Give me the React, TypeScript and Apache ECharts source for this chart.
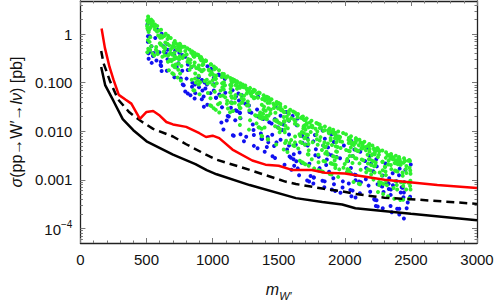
import React, { useEffect, useRef } from "react";
import * as echarts from "echarts";

// ---- data (mass in GeV, cross section in pb) ----
const redLimit: [number, number][] = [
  [160, 1.3], [185, 0.52], [220, 0.21], [250, 0.115], [290, 0.056], [340, 0.045], [385, 0.037],
  [450, 0.018], [500, 0.025], [550, 0.026], [600, 0.021], [650, 0.0155], [700, 0.0138], [800, 0.0123],
  [900, 0.0091], [950, 0.0076], [1000, 0.0081], [1050, 0.0072], [1150, 0.0042], [1300, 0.0025],
  [1400, 0.00205], [1500, 0.00195], [1600, 0.0016], [1750, 0.0016], [1850, 0.0014], [2000, 0.00135],
  [2300, 0.001], [2700, 0.00078], [3000, 0.00068],
];
const dashedCurve: [number, number][] = [
  [157, 0.45], [175, 0.25], [225, 0.105], [285, 0.045], [370, 0.0245], [460, 0.016], [550, 0.0112],
  [700, 0.0078], [800, 0.0054], [950, 0.0033], [1030, 0.0026], [1280, 0.0016], [1550, 0.00092],
  [1630, 0.00082], [1830, 0.00066], [1980, 0.00058], [2080, 0.00051], [2300, 0.00043], [2500, 0.0004],
  [3000, 0.00032],
];
const solidCurve: [number, number][] = [
  [157, 0.21], [187, 0.089], [250, 0.042], [320, 0.0178], [400, 0.0105], [500, 0.0062], [700, 0.0033],
  [870, 0.0021], [955, 0.00158], [1030, 0.0013], [1280, 0.00078], [1630, 0.00042], [1830, 0.00035],
  [1980, 0.00031], [2080, 0.00026], [2500, 0.0002], [3000, 0.000148],
];

const greenPts: [number, number][] = [
  [512,2.3],[547,1.84],[581,1.46],[514,2.1],[559,1.44],[565,1.24],[558,0.36],[579,1.13],[523,0.69],[546,1.57],[564,1.25],[538,1.5],[527,0.47],[550,1.53],[588,0.93],[505,1.9],[507,1.3],[510,0.75],[513,0.5],[516,1.1],[506,0.42],
  [571,0.475],[528,1.92],[582,0.436],[545,0.4],[504,1.47],[523,1.28],[536,1.98],[528,0.86],[547,1.69],[533,1.72],
  [536,0.564],[594,1.18],[584,0.386],[514,1.21],[531,1.36],[509,1.76],[543,1.67],[573,0.542],[515,1.7],[564,1.57],
  [610,1.22],[645,1.01],[683,0.83],[694,0.52],[659,0.79],[630,0.43],[681,0.41],[640,0.5],[628,0.54],[620,0.34],[699,0.225],[662,0.27],[603,0.84],[682,0.48],[634,0.91],
  [609,0.93],[669,0.179],[695,0.156],[657,0.63],[696,0.374],[697,0.3],[662,0.36],[672,0.585],[607,0.6],[663,0.92],
  [609,0.618],[618,0.85],[669,0.855],[688,0.277],[670,0.378],[601,0.646],[676,0.295],[639,0.527],[642,0.671],[637,0.363],
  [714,0.72],[752,0.63],[788,0.55],[730,0.32],[764,0.22],[709,0.55],[784,0.36],[760,0.111],[755,0.6],[758,0.51],[723,0.64],[772,0.32],[735,0.127],[740,0.184],[712,0.21],
  [738,0.552],[717,0.206],[752,0.349],[716,0.341],[742,0.244],[746,0.299],[739,0.6],[793,0.447],[700,0.574],[705,0.149],
  [756,0.44],[754,0.154],[706,0.652],[730,0.488],[710,0.308],[720,0.237],[751,0.6],[738,0.472],[775,0.55],[711,0.414],
  [808,0.51],[846,0.44],[884,0.38],[852,0.39],[810,0.27],[855,0.07],[864,0.26],[862,0.34],[894,0.092],[895,0.225],[893,0.365],[838,0.41],[876,0.2],[842,0.115],[881,0.375],
  [862,0.0686],[804,0.38],[857,0.347],[890,0.369],[833,0.294],[829,0.254],[826,0.474],[859,0.224],[863,0.41],[873,0.1],
  [889,0.111],[861,0.394],[868,0.154],[839,0.211],[896,0.192],[852,0.372],[826,0.184],[815,0.308],[867,0.121],[895,0.138],
  [912,0.336],[950,0.28],[986,0.24],[923,0.23],[978,0.102],[975,0.177],[916,0.174],[927,0.284],[920,0.293],[990,0.033],[914,0.18],[964,0.061],[956,0.115],[992,0.165],[946,0.287],
  [949,0.283],[976,0.179],[929,0.24],[982,0.0344],[988,0.237],[970,0.184],[919,0.171],[925,0.286],[901,0.0575],[903,0.32],
  [940,0.108],[984,0.0478],[981,0.145],[933,0.185],[932,0.264],[906,0.102],[917,0.313],[912,0.29],[900,0.189],[962,0.0957],
  [1010,0.214],[1048,0.18],[1085,0.151],[1026,0.199],[1024,0.0275],[1014,0.189],[1027,0.14],[1072,0.097],[1058,0.053],[1000,0.091],[1060,0.069],[1031,0.0975],[1056,0.038],[1017,0.125],[1088,0.134],
  [1070,0.131],[1015,0.126],[1008,0.0296],[1014,0.0853],[1093,0.0881],[1084,0.072],[1016,0.0649],[1050,0.0244],[1024,0.121],[1076,0.142],
  [1003,0.148],[1022,0.119],[1074,0.08],[1001,0.112],[1085,0.102],[1090,0.087],[1073,0.152],[1041,0.0359],[1095,0.0501],[1077,0.0545],
  [1113,0.135],[1151,0.118],[1187,0.105],[1136,0.075],[1137,0.039],[1189,0.084],[1159,0.115],[1134,0.125],[1101,0.126],[1133,0.089],[1166,0.112],[1154,0.026],[1182,0.096],[1146,0.049],[1152,0.106],
  [1180,0.107],[1116,0.0295],[1147,0.0375],[1141,0.11],[1185,0.0745],[1174,0.0885],[1134,0.063],[1144,0.098],[1143,0.0863],[1110,0.0426],
  [1141,0.0525],[1199,0.0348],[1132,0.0245],[1172,0.0553],[1108,0.0366],[1168,0.0387],[1169,0.0476],[1164,0.107],[1135,0.0628],[1157,0.11],
  [1209,0.097],[1247,0.087],[1283,0.078],[1205,0.0304],[1227,0.092],[1236,0.0448],[1275,0.0108],[1259,0.075],[1295,0.053],[1207,0.0785],[1218,0.0383],[1211,0.0299],[1238,0.08],[1293,0.061],[1264,0.068],
  [1206,0.0135],[1255,0.0762],[1270,0.0655],[1276,0.0716],[1283,0.0169],[1260,0.0337],[1226,0.0832],[1233,0.0815],[1238,0.0538],[1258,0.0596],
  [1271,0.0344],[1225,0.0396],[1207,0.0189],[1288,0.0587],[1265,0.07],[1278,0.0271],[1213,0.0566],[1219,0.0473],[1212,0.0914],[1266,0.0409],
  [1311,0.0713],[1349,0.0625],[1386,0.055],[1396,0.043],[1374,0.0079],[1356,0.019],[1335,0.059],[1388,0.0275],[1375,0.046],[1372,0.0349],[1389,0.049],[1322,0.0214],[1393,0.0119],[1318,0.049],[1301,0.066],
  [1382,0.0228],[1356,0.061],[1329,0.0207],[1360,0.0244],[1373,0.018],[1311,0.0502],[1320,0.0692],[1370,0.00804],[1332,0.0145],[1309,0.0646],
  [1312,0.0475],[1366,0.0205],[1371,0.0112],[1343,0.0489],[1352,0.0214],[1386,0.0192],[1353,0.0119],[1385,0.0278],[1389,0.0321],[1348,0.0121],
  [1408,0.0512],[1445,0.0454],[1484,0.04],[1464,0.03],[1409,0.0208],[1402,0.0469],[1439,0.0279],[1494,0.0154],[1437,0.0232],[1422,0.0296],[1473,0.0127],[1419,0.0493],[1470,0.0338],[1417,0.00686],[1486,0.0357],
  [1423,0.0488],[1469,0.0168],[1497,0.0117],[1420,0.00678],[1431,0.0385],[1414,0.0451],[1467,0.0339],[1483,0.016],[1481,0.00535],[1402,0.0263],
  [1475,0.024],[1459,0.037],[1485,0.0168],[1495,0.0294],[1438,0.044],[1423,0.0209],[1437,0.0274],[1416,0.0383],[1411,0.0177],[1404,0.0181],
  [1512,0.0364],[1550,0.0316],[1587,0.0276],[1517,0.0141],[1575,0.0231],[1538,0.0196],[1567,0.0176],[1581,0.00574],[1546,0.0095],[1566,0.00375],[1540,0.016],[1513,0.0291],[1500,0.038],[1556,0.00638],[1511,0.011],
  [1577,0.0229],[1511,0.0327],[1525,0.0279],[1538,0.0042],[1578,0.0167],[1542,0.0159],[1505,0.0148],[1595,0.0186],[1569,0.0115],[1574,0.0256],
  [1548,0.00575],[1561,0.02],[1542,0.0247],[1551,0.013],[1544,0.0158],[1507,0.0095],[1518,0.027],[1545,0.0107],[1535,0.0254],[1594,0.00662],
  [1609,0.0255],[1646,0.0227],[1683,0.0201],[1675,0.00573],[1678,0.0023],[1660,0.00248],[1617,0.0172],[1663,0.00601],[1619,0.00495],[1672,0.0186],[1648,0.00442],[1641,0.0215],[1690,0.0175],[1622,0.0143],[1695,0.0132],
  [1694,0.00714],[1686,0.0114],[1645,0.0132],[1690,0.00918],[1698,0.00526],[1693,0.0173],[1663,0.00801],[1688,0.0022],[1623,0.0244],[1609,0.00512],
  [1674,0.0195],[1623,0.0059],[1689,0.0127],[1644,0.0192],[1624,0.0078],[1696,0.0124],[1657,0.00869],[1637,0.022],[1626,0.0158],[1675,0.00968],
  [1711,0.0184],[1748,0.0165],[1785,0.0148],[1727,0.00195],[1768,0.00172],[1725,0.00331],[1792,0.00986],[1754,0.0128],[1701,0.0021],[1795,0.00527],[1713,0.0146],[1702,0.0168],[1796,0.0143],[1786,0.00843],[1703,0.0108],
  [1721,0.00834],[1742,0.00962],[1799,0.00158],[1722,0.00656],[1757,0.00593],[1735,0.0152],[1748,0.0131],[1720,0.00336],[1726,0.012],[1789,0.00681],
  [1799,0.00328],[1701,0.0074],[1712,0.00853],[1749,0.0122],[1727,0.00404],[1750,0.00266],[1725,0.00544],[1778,0.0113],[1756,0.012],[1709,0.0138],
  [1810,0.0138],[1849,0.0125],[1886,0.0114],[1896,0.00984],[1851,0.00239],[1870,0.00333],[1821,0.0119],[1834,0.00147],[1899,0.00129],[1898,0.00216],[1837,0.0102],[1893,0.00219],[1804,0.00156],[1878,0.0094],[1873,0.0105],
  [1852,0.00348],[1886,0.00132],[1839,0.00245],[1849,0.00468],[1846,0.00593],[1810,0.00646],[1882,0.0102],[1893,0.00649],[1823,0.00151],[1880,0.00912],
  [1827,0.00412],[1893,0.00728],[1838,0.00508],[1856,0.00486],[1848,0.0105],[1862,0.0038],[1872,0.00558],[1816,0.00757],[1801,0.0023],[1810,0.0116],
  [1912,0.0107],[1950,0.00988],[1987,0.00916],[1945,0.00475],[1934,0.00385],[1990,0.00177],[1930,0.0082],[1964,0.00764],[1955,0.00783],[1931,0.00201],[1925,0.00716],[1936,0.00593],[1968,0.00452],[1903,0.00519],[1926,0.00927],
  [1950,0.00115],[1944,0.00689],[1911,0.00305],[1930,0.00918],[1923,0.00205],[1919,0.003],[1906,0.00213],[1941,0.0038],[1914,0.00949],[1939,0.00288],
  [1999,0.00212],[1928,0.00175],[1931,0.00489],[1914,0.00897],[1959,0.00728],[1965,0.00622],[1958,0.00164],[1979,0.00605],[1923,0.0025],[1946,0.0075],
  [2009,0.0087],[2047,0.00791],[2084,0.00721],[2075,0.00588],[2088,0.00274],[2058,0.00221],[2053,0.0054],[2020,0.00166],[2038,0.00721],[2042,0.00637],[2061,0.0031],[2017,0.00242],[2066,0.0009],[2014,0.00244],[2030,0.00569],
  [2068,0.00519],[2028,0.0066],[2037,0.00308],[2046,0.00461],[2080,0.00427],[2029,0.00394],[2031,0.00734],[2082,0.00581],[2032,0.00161],[2078,0.00279],
  [2050,0.0059],[2088,0.00406],[2019,0.0027],[2016,0.00145],[2039,0.00138],[2037,0.00386],[2010,0.00412],[2082,0.00684],[2097,0.00397],[2094,0.00664],
  [2111,0.00671],[2148,0.00605],[2185,0.00547],[2115,0.00081],[2156,0.00473],[2186,0.00378],[2188,0.00433],[2133,0.0044],[2178,0.00162],[2159,0.00407],[2175,0.00502],[2195,0.00155],[2181,0.0049],[2189,0.00264],[2172,0.00327],
  [2130,0.00569],[2175,0.00216],[2171,0.00165],[2136,0.0056],[2133,0.00504],[2106,0.00083],[2181,0.00494],[2125,0.00448],[2199,0.00202],[2118,0.00588],
  [2140,0.00252],[2128,0.00261],[2120,0.00161],[2199,0.00129],[2162,0.00143],[2103,0.00391],[2182,0.00266],[2134,0.00475],[2111,0.00218],[2106,0.00514],
  [2209,0.00509],[2247,0.00451],[2284,0.004],[2287,0.00157],[2261,0.00386],[2219,0.00239],[2290,0.00051],[2221,0.0019],[2242,0.0041],[2217,0.00101],[2293,0.00082],[2207,0.00246],[2225,0.00142],[2220,0.0044],[2204,0.0032],
  [2235,0.0042],[2259,0.0009],[2288,0.00084],[2251,0.00056],[2234,0.00228],[2280,0.00122],[2227,0.00334],[2286,0.00237],[2273,0.00087],[2258,0.0039],
  [2251,0.00294],[2228,0.00363],[2230,0.00196],[2264,0.00142],[2209,0.00335],[2284,0.00232],[2260,0.00078],[2255,0.00416],[2258,0.0033],[2223,0.00412],
  [2312,0.0037],[2350,0.00339],[2386,0.00312],[2382,0.00094],[2396,0.00063],[2323,0.00324],[2330,0.00318],[2395,0.00245],[2303,0.00186],[2331,0.00248],[2385,0.00251],[2369,0.00068],[2399,0.00148],[2377,0.00223],[2362,0.00265],
  [2389,0.00151],[2308,0.00148],[2380,0.00155],[2382,0.0022],[2374,0.000406],[2327,0.00046],[2361,0.00296],[2348,0.00202],[2319,0.00077],[2344,0.00276],
  [2312,0.00095],[2348,0.00289],[2311,0.00125],[2345,0.00324],[2328,0.00207],[2310,0.00283],[2370,0.00275],[2393,0.00078],[2352,0.00166],[2305,0.00183],
  [2410,0.00296],[2448,0.00277],[2488,0.00257],[2452,0.00248],[2417,0.00206],[2492,0.00087],[2486,0.00041],[2444,0.00224],[2415,0.00264],[2424,0.00089],[2419,0.00235],[2464,0.00063],[2401,0.0021],[2441,0.00039],[2437,0.00142],
  [2448,0.00088],[2456,0.00245],[2423,0.00204],[2462,0.00166],[2482,0.00087],[2404,0.00269],[2497,0.00063],[2466,0.00193],[2420,0.000385],[2400,0.00242],
  [2494,0.00075],[2495,0.00156],[2493,0.00243],[2438,0.00121],[2496,0.00096],[2442,0.00075],[2481,0.00247],[2497,0.00134],[2466,0.00138],[2490,0.00177],
];

const bluePts: [number, number][] = [
  [519,0.45],[516,0.31],[539,0.255],[537,0.56],[510,0.69],[582,1.23],[597,0.42],[508,1.6],[511,0.9],[514,0.4],
  [566,0.83],[549,0.352],[575,0.285],[524,0.43],[554,0.406],[525,0.9],[515,1.2],
  [611,0.22],[606,0.23],[698,0.39],[614,0.174],[608,0.27],[651,0.39],[628,0.56],
  [635,0.427],[654,0.175],[659,0.303],[657,0.62],[614,1.01],[659,0.474],[671,0.284],
  [748,0.41],[711,0.129],[745,0.54],[728,0.21],[710,0.37],[770,0.37],[793,0.066],
  [792,0.339],[781,0.0887],[741,0.25],[759,0.122],[774,0.092],[770,0.175],[717,0.461],
  [897,0.08],[866,0.092],[893,0.13],[844,0.082],[812,0.06],[847,0.1],[864,0.047],
  [813,0.235],[832,0.0548],[869,0.0608],[894,0.1285],[803,0.121],[840,0.21],[812,0.182],
  [934,0.032],[961,0.218],[945,0.076],[932,0.052],[921,0.111],[939,0.101],[960,0.035],
  [957,0.0912],[983,0.0608],[918,0.0457],[993,0.1875],[988,0.192],[923,0.069],[919,0.113],
  [1052,0.143],[1092,0.119],[1096,0.062],[1082,0.0109],[1025,0.049],[1009,0.126],[1071,0.031],
  [1046,0.1466],[1066,0.0152],[1008,0.0925],[1026,0.0488],[1009,0.0687],[1050,0.0569],[1066,0.134],
  [1138,0.0304],[1114,0.0205],[1195,0.06],[1177,0.052],[1151,0.07],[1160,0.0081],[1143,0.039],
  [1153,0.0083],[1107,0.0166],[1174,0.0269],[1199,0.043],[1171,0.0168],[1122,0.02],[1184,0.026],
  [1279,0.025],[1210,0.0185],[1211,0.0087],[1254,0.0077],[1207,0.0238],[1246,0.037],[1237,0.0062],
  [1200,0.081],[1275,0.0338],[1204,0.0243],[1293,0.0239],[1220,0.0555],[1203,0.0802],[1259,0.0356],
  [1394,0.0038],[1312,0.005],[1383,0.0178],[1367,0.0188],[1336,0.028],[1344,0.0515],[1365,0.009],
  [1312,0.00836],[1344,0.0202],[1374,0.00693],[1304,0.0138],[1369,0.00702],[1309,0.0106],[1340,0.00447],
  [1494,0.012],[1470,0.0177],[1477,0.033],[1453,0.00306],[1421,0.0059],[1417,0.0076],[1429,0.0153],
  [1451,0.0085],[1410,0.00474],[1465,0.00497],[1446,0.0144],[1474,0.0175],[1472,0.00282],[1483,0.0059],
  [1514,0.00665],[1526,0.0106],[1556,0.0248],[1582,0.00301],[1578,0.00506],[1577,0.0164],[1534,0.0139],
  [1578,0.0086],[1544,0.00205],[1596,0.00161],[1592,0.00286],[1563,0.0042],[1537,0.0137],[1514,0.0209],
  [1643,0.0182],[1614,0.00337],[1654,0.00124],[1658,0.00364],[1637,0.0133],[1605,0.0207],[1679,0.008],
  [1679,0.0058],[1612,0.00264],[1673,0.00224],[1617,0.00195],[1629,0.00528],[1644,0.00172],[1633,0.00241],
  [1741,0.0012],[1715,0.00097],[1781,0.00424],[1762,0.00084],[1777,0.00319],[1774,0.0084],[1730,0.00092],
  [1719,0.00508],[1766,0.00112],[1703,0.00533],[1718,0.00705],[1762,0.00618],[1764,0.00112],[1732,0.00214],
  [1873,0.00465],[1881,0.00147],[1809,0.00174],[1831,0.00096],[1859,0.00202],[1802,0.00299],[1845,0.0007],
  [1848,0.00093],[1879,0.00336],[1832,0.0103],[1836,0.00509],[1890,0.00895],[1849,0.007],[1864,0.00261],
  [1993,0.00508],[1918,0.00081],[1917,0.00598],[1901,0.0087],[1900,0.00321],[1913,0.00108],[1983,0.000695],
  [1902,0.00063],[1985,0.00093],[1967,0.00054],[1932,0.00817],[1964,0.00279],[1938,0.00295],[1927,0.00059],
  [2059,0.0006],[2025,0.00244],[2049,0.00627],[2042,0.00062],[2075,0.00128],[2046,0.00176],[2073,0.00421],
  [2050,0.000457],[2081,0.000432],[2045,0.00136],[2083,0.00126],[2059,0.0031],[2030,0.00084],[2081,0.00098],
  [2153,0.00243],[2117,0.00377],[2122,0.00089],[2180,0.00076],[2161,0.00175],[2100,0.00394],[2192,0.00057],
  [2188,0.00309],[2159,0.00103],[2104,0.0039],[2169,0.00456],[2198,0.00215],[2114,0.00053],[2108,0.00092],
  [2248,0.00081],[2286,0.00123],[2227,0.00039],[2283,0.00073],[2293,0.00056],[2215,0.0015],[2238,0.00266],
  [2242,0.00189],[2287,0.000259],[2222,0.000397],[2249,0.000282],[2272,0.00076],[2235,0.00029],[2240,0.00038],
  [2333,0.00065],[2332,0.00083],[2319,0.00086],[2347,0.00049],[2391,0.00094],[2348,0.00063],[2307,0.00217],
  [2336,0.00108],[2346,0.00029],[2324,0.00085],[2396,0.000254],[2355,0.000216],[2364,0.00077],[2362,0.00137],
  [2412,0.000194],[2458,0.00161],[2438,0.00069],[2494,0.00045],[2415,0.0017],[2449,0.0009],[2410,0.00124],[2447,0.00016],[2468,0.00026],[2476,0.00034],
  [2416,0.00236],[2499,0.00207],[2423,0.00055],[2430,0.0007],[2444,0.00044],[2412,0.000255],[2447,0.00055],
];

const xTicks = [0, 500, 1000, 1500, 2000, 2500, 3000];
const yTickValues = [1, 0.1, 0.01, 0.001, 0.0001];
const yTickLabels = ["1", "0.100", "0.010", "0.001", "{b|10}{s|\u22124}"];

const Y_MIN = -4.3;
const Y_MAX = 0.68;
const FONT = "Liberation Sans, Arial, sans-serif";

const toLog = (pts: [number, number][]) => pts.map(([m, s]) => [m, Math.log10(s)]);

export default function App() {
  const ref = useRef<HTMLDivElement>(null);
  useEffect(() => {
    if (!ref.current) return;
    const chart = echarts.init(ref.current, undefined, { renderer: "svg" });
    const majorLog = yTickValues.map((v) => Math.round(Math.log10(v)));
    const minorLog: number[] = [];
    for (let d = -5; d <= 0; d++) {
      for (let k = 2; k <= 9; k++) {
        const v = d + Math.log10(k);
        if (v > Y_MIN && v < Y_MAX) minorLog.push(v);
      }
    }
    const labelMap: Record<string, string> = {};
    majorLog.forEach((v, i) => (labelMap[String(v)] = yTickLabels[i]));
    const axisLineStyle = { color: "#222", width: 1.3 };
    const tickStyle = { color: "#777", width: 1 };
    const baseY = {
      type: "value" as const,
      min: Y_MIN,
      max: Y_MAX,
      splitLine: { show: false },
    };
    const baseX = {
      type: "value" as const,
      min: 0,
      max: 3000,
      interval: 500,
      splitLine: { show: false },
      minorSplitLine: { show: false },
    };
    chart.setOption({
      animation: false,
      grid: { left: 75, right: 21, top: 1, bottom: 56 },
      textStyle: { fontFamily: FONT },
      xAxis: [
        {
          ...baseX,
          position: "bottom",
          axisLine: { show: true, onZero: false, lineStyle: axisLineStyle },
          axisTick: { show: true, inside: true, length: 5, lineStyle: tickStyle },
          minorTick: { show: true, splitNumber: 5, length: 2.5, lineStyle: tickStyle },
          axisLabel: {
            color: "#111",
            fontSize: 15,
            fontFamily: FONT,
            margin: 9,
            customValues: xTicks,
            formatter: (v: number) => String(v),
          },
          name: "{m|m}{s|W\u2032}",
          nameLocation: "middle",
          nameGap: 38,
          nameTextStyle: {
            rich: {
              m: { fontSize: 16, fontStyle: "italic", fontFamily: FONT, color: "#111", lineHeight: 20, verticalAlign: "top" },
              s: { fontSize: 11, fontStyle: "italic", fontFamily: FONT, color: "#111", lineHeight: 20, verticalAlign: "bottom", padding: [9, 0, 0, 0] },
            },
          },
        },
        {
          ...baseX,
          position: "top",
          axisLine: { show: true, onZero: false, lineStyle: axisLineStyle },
          axisTick: { show: true, inside: true, length: 5, lineStyle: tickStyle },
          minorTick: { show: true, splitNumber: 5, length: 2.5, lineStyle: tickStyle },
          axisLabel: { show: false },
        },
      ],
      yAxis: [
        {
          ...baseY,
          position: "left",
          axisLine: { show: true, onZero: false, lineStyle: axisLineStyle },
          axisTick: { show: true, inside: true, length: 5, lineStyle: tickStyle, customValues: majorLog },
          axisLabel: {
            color: "#111",
            fontSize: 15,
            fontFamily: FONT,
            margin: 8,
            customValues: majorLog,
            formatter: (v: number) => labelMap[String(Math.round(v))] ?? "",
            rich: {
              b: { fontSize: 15, fontFamily: FONT, color: "#111", lineHeight: 18, verticalAlign: "bottom" },
              s: { fontSize: 10, fontFamily: FONT, color: "#111", lineHeight: 18, verticalAlign: "top" },
            },
          },
          name: "{i|\u03c3}(pp\u2192W\u2032\u2192{i|l\u03bd}) [pb]",
          nameLocation: "middle",
          nameGap: 52,
          nameRotate: 90,
          nameTextStyle: {
            fontSize: 16,
            fontFamily: FONT,
            color: "#111",
            rich: {
              i: { fontSize: 16, fontStyle: "italic", fontFamily: FONT, color: "#111" },
            },
          },
        },
        {
          ...baseY,
          position: "left",
          axisLine: { show: false, onZero: false },
          axisTick: { show: true, inside: true, length: 2.5, lineStyle: tickStyle, customValues: minorLog },
          axisLabel: { show: false },
        },
        {
          ...baseY,
          position: "right",
          axisLine: { show: true, onZero: false, lineStyle: axisLineStyle },
          axisTick: { show: true, inside: true, length: 5, lineStyle: tickStyle, customValues: majorLog },
          axisLabel: { show: false },
        },
        {
          ...baseY,
          position: "right",
          axisLine: { show: false, onZero: false },
          axisTick: { show: true, inside: true, length: 2.5, lineStyle: tickStyle, customValues: minorLog },
          axisLabel: { show: false },
        },
      ],
      series: [
        {
          type: "scatter",
          data: toLog(bluePts),
          symbolSize: 4,
          itemStyle: { color: "#1010f0", opacity: 1 },
          silent: true,
          z: 2,
        },
        {
          type: "scatter",
          data: toLog(greenPts),
          symbolSize: 4,
          itemStyle: { color: "#2ef02e", opacity: 1 },
          silent: true,
          z: 3,
        },
        {
          type: "line",
          data: toLog(solidCurve),
          showSymbol: false,
          lineStyle: { color: "#000", width: 2.5 },
          z: 5,
        },
        {
          type: "line",
          data: toLog(dashedCurve),
          showSymbol: false,
          lineStyle: { color: "#000", width: 2.5, type: [8, 5] },
          z: 5,
        },
        {
          type: "line",
          data: toLog(redLimit),
          showSymbol: false,
          lineStyle: { color: "#f00", width: 2.5 },
          z: 6,
        },
      ],
    });
    return () => chart.dispose();
  }, []);
  return <div ref={ref} style={{ position: "fixed", left: 0, top: 0, width: 498, height: 306, background: "#fff" }} />;
}
